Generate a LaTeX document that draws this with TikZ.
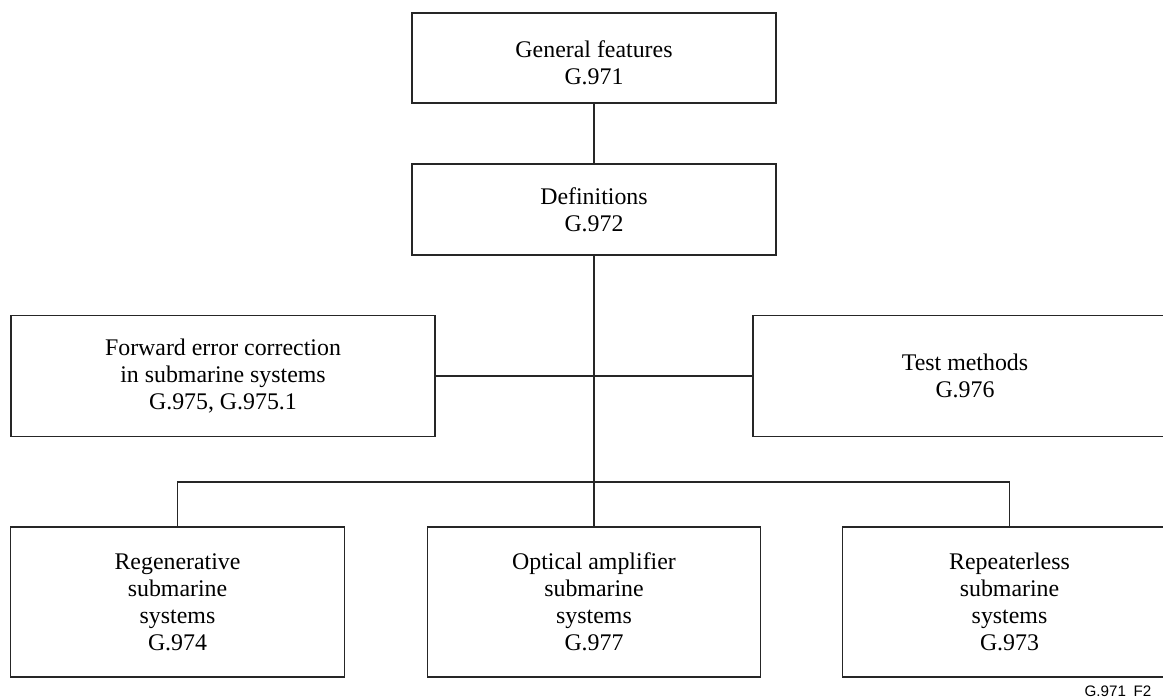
\documentclass[tikz,border=0pt]{standalone}
\usepackage{fontspec}
\setmainfont{Liberation Serif}
\newfontfamily\figfont{Liberation Sans}
\tikzset{
  stdbox/.style={draw=black!85, line width=0.9pt, inner sep=0pt, align=center,
    font=\fontsize{17.9}{20.25}\selectfont},
  link/.style={draw=black!85, line width=0.9pt}
}
\begin{document}
\begin{tikzpicture}[x=0.75pt,y=0.75pt,yscale=-1,xscale=1]
        \useasboundingbox (0,0) rectangle (1163,699);
        % top of the tree
        \node [stdbox, minimum width=273pt, minimum height=67.5pt, text height=40pt] (gen) at (594,58) {General features\\G.971};
        \node [stdbox, minimum width=273pt, minimum height=68.25pt] (def) at (594,209.5) {Definitions\\G.972};
        % middle row
        \node [stdbox, minimum width=318pt, minimum height=90.75pt] (fec) at (223,376) {Forward error correction\\in submarine systems\\G.975, G.975.1};
        \node [stdbox, minimum width=318pt, minimum height=90.75pt] (test) at (965,376) {Test methods\\G.976};
        % bottom row
        \node [stdbox, minimum width=250pt, minimum height=112.5pt] (regen) at (177.5,602) {Regenerative\\submarine\\systems\\G.974};
        \node [stdbox, minimum width=250pt, minimum height=112.5pt] (optamp) at (594,602) {Optical amplifier\\submarine\\systems\\G.977};
        \node [stdbox, minimum width=250pt, minimum height=112.5pt] (repless) at (1009.5,602) {Repeaterless\\submarine\\systems\\G.973};
        \coordinate (bus) at (594,482);
        % connectors
        \draw [link] (gen) -- (def);
        \draw [link] (def) -- (optamp);
        \draw [link] (fec) -- (test);
        \draw [link] (regen.north) |- (bus) -| (repless.north);
        \draw (1118,691) node [font=\figfont\fontsize{11.4}{12}\selectfont] (figid) {G.971\enspace F2};
\end{tikzpicture}
\end{document}
